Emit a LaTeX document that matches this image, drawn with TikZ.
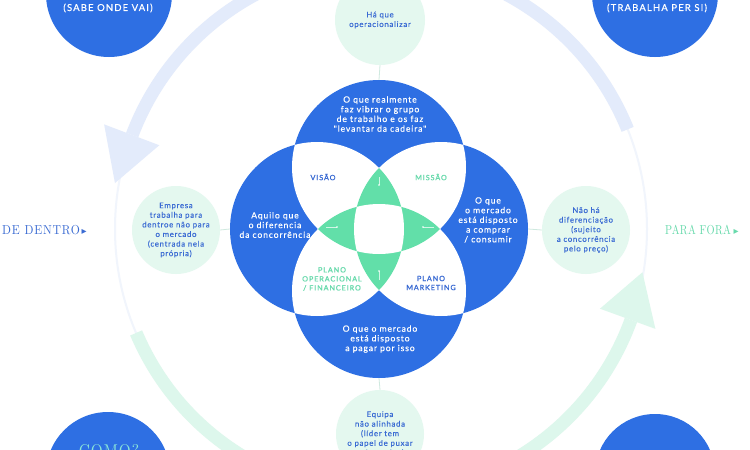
\documentclass[tikz,border=0pt]{standalone}
\usepackage{fontspec}
\setmainfont{Lato}
\newfontfamily\latosp[LetterSpace=9,FakeBold=0.3]{Lato}
\newfontfamily\latowh[LetterSpace=10,FakeBold=0.3]{Lato}
\newfontfamily\latobsp[LetterSpace=13,FakeBold=1.3]{Lato}
\newfontfamily\latocap[LetterSpace=12,FakeBold=0.3]{Lato}
\newfontfamily\didotA[LetterSpace=6,FakeStretch=0.9]{lmroman10-regular.otf}
\newfontfamily\didotB[LetterSpace=3,FakeStretch=0.8]{lmroman10-regular.otf}
\newfontfamily\dejavu{DejaVu Sans}
\definecolor{blueC}{HTML}{2E6FE3}
\definecolor{mint}{HTML}{E4F8EF}
\definecolor{greenP}{HTML}{62DFA9}
\definecolor{txtblue}{HTML}{3A6BD3}
\definecolor{txtgreen}{HTML}{68DAAC}
\definecolor{ringblue}{HTML}{E3EBFB}
\definecolor{ringgreen}{HTML}{DDF7EC}
\definecolor{ringfaint}{HTML}{F1F5FC}
\definecolor{conn}{HTML}{CFE9DF}
\definecolor{como}{HTML}{8CE8D8}
\begin{document}
\begin{tikzpicture}[x=1pt,y=-1pt,
  minttext/.style={circle,fill=mint,inner sep=0pt,minimum size=#1,align=center,
    text=txtblue,font=\latosp\fontsize{7.8}{9.6}\selectfont},
  whitetext/.style={align=center,text=white,inner sep=0pt,font=\latowh\fontsize{8.6}{9.7}\selectfont},
  boldlabel/.style={align=center,inner sep=0pt,font=\latobsp\fontsize{7.2}{9}\selectfont},
  bigcircle/.style={circle,fill=blueC,inner sep=0pt,minimum size=#1},
  ghost/.style={circle,inner sep=0pt,minimum size=174pt},
  connector/.style={draw=conn,line width=0.8pt},
  marker/.style={draw=white,draw opacity=0.7,line width=0.6pt}]
\useasboundingbox (0,0) rectangle (750,450);
\fill[white] (0,0) rectangle (750,450);

% ---------- outer ring ----------
\begin{scope}[shift={(381,229)}]
  \draw[ringfaint,line width=2pt] (0,0) circle[radius=266];
  \draw[ringblue,line width=13pt] (-22:266) arc[start angle=-22,end angle=-159.3,radius=266];
  \fill[ringblue] (-159.3:237) -- (-170.2:270) -- (-159.3:296) -- cycle;
  \draw[ringgreen,line width=13pt] (157:266) arc[start angle=157,end angle=20,radius=266];
  \fill[ringgreen] (20:233) -- (9.4:265) -- (20:292) -- cycle;
\end{scope}

% ---------- corner circles ----------
\node[bigcircle=126pt] (cTL) at (109,-6) {};
\node[bigcircle=126pt] (cTR) at (655,-6) {};
\node[bigcircle=124pt] (cBL) at (108,474) {};
\node[bigcircle=120pt] (cBR) at (655,474) {};
\node[text=white,inner sep=0pt,font=\latocap\fontsize{9.5}{11}\selectfont] (tTL) at (108,8) {(SABE ONDE VAI)};
\node[text=white,inner sep=0pt,font=\latocap\fontsize{9.5}{11}\selectfont] (tTR) at (657,8) {(TRABALHA PER SI)};
\node[text=como,inner sep=0pt,anchor=north,font=\didotA\fontsize{17}{20}\selectfont] (tBL) at (109,444) {COMO?};

% ---------- four-circle flower ----------
\coordinate (cT) at (379,167);
\coordinate (cB) at (379,291);
\coordinate (cL) at (317,229);
\coordinate (cR) at (441,229);
\fill[blueC] (cT) circle[radius=87] (cB) circle[radius=87] (cL) circle[radius=87] (cR) circle[radius=87];
\begin{scope}
  \clip (cT) circle[radius=87];
  \fill[white] (cL) circle[radius=87] (cR) circle[radius=87];
\end{scope}
\begin{scope}
  \clip (cB) circle[radius=87];
  \fill[white] (cL) circle[radius=87] (cR) circle[radius=87];
\end{scope}
\begin{scope}
  \clip (cT) circle[radius=87];
  \clip (cL) circle[radius=87];
  \fill[greenP] (cR) circle[radius=87] (cB) circle[radius=87];
\end{scope}
\begin{scope}
  \clip (cB) circle[radius=87];
  \clip (cR) circle[radius=87];
  \fill[greenP] (cT) circle[radius=87] (cL) circle[radius=87];
\end{scope}
\begin{scope}
  \clip (cT) circle[radius=87];
  \clip (cL) circle[radius=87];
  \clip (cR) circle[radius=87];
  \fill[white] (cB) circle[radius=87];
\end{scope}
\node[ghost] (pT) at (cT) {};
\node[ghost] (pB) at (cB) {};
\node[ghost] (pL) at (cL) {};
\node[ghost] (pR) at (cR) {};

% small markers in green petals
\coordinate (mT1) at (379,177); \coordinate (mT2) at (379,185);
\coordinate (mL1) at (326,227); \coordinate (mL2) at (337,227);
\coordinate (mR1) at (434,227); \coordinate (mR2) at (423,227);
\coordinate (mB1) at (379,280); \coordinate (mB2) at (379,271);
\draw[marker] (mT1) -- (mT2); \fill[white,opacity=0.7] (mT2) circle[radius=1.2];
\draw[marker] (mL1) -- (mL2); \fill[white,opacity=0.7] (mL2) circle[radius=1.2];
\draw[marker] (mR1) -- (mR2); \fill[white,opacity=0.7] (mR2) circle[radius=1.2];
\draw[marker] (mB1) -- (mB2); \fill[white,opacity=0.7] (mB2) circle[radius=1.2];

% petal texts
\node[whitetext] (tT) at (380,114) {O que realmente\\faz vibrar o grupo\\de trabalho e os faz\\"levantar da cadeira"};
\node[whitetext] (tL) at (275,225) {Aquilo que\\o diferencia\\da concorrência};
\node[whitetext] (tR) at (488,220) {O que\\o mercado\\está disposto\\a comprar\\/ consumir};
\node[whitetext] (tB) at (380,339) {O que o mercado\\está disposto\\a pagar por isso};
\node[boldlabel,text=txtblue] (visao) at (323,177) {VISÃO};
\node[boldlabel,text=txtgreen] (missao) at (431,177) {MISSÃO};
\node[boldlabel,text=txtgreen] (plop) at (332,279) {PLANO\\OPERACIONAL\\/ FINANCEIRO};
\node[boldlabel,text=txtblue] (plmk) at (431,283) {PLANO\\MARKETING};

% ---------- mint satellite circles ----------
\node[minttext=90pt] (gT) at (380,20) {Há que\\operacionalizar};
\node[minttext=88pt] (gL) at (176,230) {Empresa\\trabalha para\\dentroe não para\\o mercado\\(centrada nela\\própria)};
\node[minttext=88pt] (gR) at (586,230) {Não há\\diferenciação\\(sujeito\\a concorrência\\pelo preço)};
\node[minttext=88pt] (gB) at (380,434) {Equipa\\não alinhada\\(líder tem\\o papel de puxar\\pela equipa)};

\draw[connector] (gT.south) -- (pT.north);
\draw[connector] (gB.north) -- (pB.south);
\draw[connector] (gL.east) -- (pL.west);
\draw[connector] (gR.west) -- (pR.east);

% ---------- side labels ----------
\node[anchor=west,inner sep=0pt,text=txtblue] (dentro) at (2,230) {{\didotA\fontsize{13}{15}\selectfont DE DENTRO}\,{\dejavu\fontsize{10}{12}\selectfont ▸}};
\node[anchor=west,inner sep=0pt,text=txtgreen] (fora) at (665,230) {{\didotB\fontsize{13}{15}\selectfont PARA FORA}\;{\dejavu\fontsize{10}{12}\selectfont ▸}};
\end{tikzpicture}
\end{document}
